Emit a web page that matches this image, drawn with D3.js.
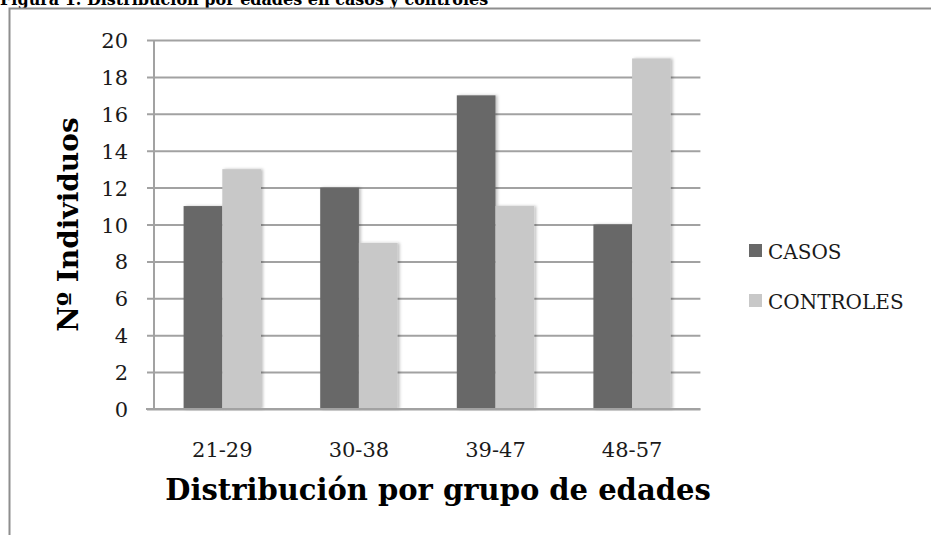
<!DOCTYPE html>
<html>
<head>
<meta charset="utf-8">
<script src="https://cdn.jsdelivr.net/npm/d3@7"></script>
<style>
  html, body { margin: 0; padding: 0; background: #fff; }
  svg { display: block; }
</style>
</head>
<body>
<svg id="chart" width="931" height="535"></svg>
<script>
// Age groups and counts for each series
const categories = ["21-29", "30-38", "39-47", "48-57"];
const casos = [11, 12, 17, 10];
const controles = [13, 9, 11, 19];
const seriesNames = ["CASOS", "CONTROLES"];
const yTickValues = [0, 2, 4, 6, 8, 10, 12, 14, 16, 18, 20];

const seriesColors = { "CASOS": "#686868", "CONTROLES": "#c8c8c8" };
const gridColor = "#a2a2a2";
const serif = "'DejaVu Serif', 'Liberation Serif', serif";

const svg = d3.select("#chart");

const defs = svg.append("defs");
const shadow = defs.append("filter").attr("id", "barShadow")
  .attr("x", "-20%").attr("y", "-5%").attr("width", "150%").attr("height", "110%");
shadow.append("feDropShadow").attr("dx", 2).attr("dy", 0)
  .attr("stdDeviation", 1.4).attr("flood-color", "#000").attr("flood-opacity", 0.25);

// Caption above the chart frame
svg.append("text")
  .attr("x", 0).attr("y", 5)
  .attr("font-family", serif).attr("font-weight", "bold").attr("font-size", 16)
  .attr("fill", "#000")
  .text("Figura 1. Distribución por edades en casos y controles");

// Chart frame
svg.append("rect")
  .attr("x", 9.5).attr("y", 8.5).attr("width", 1000).attr("height", 700)
  .attr("fill", "#fff").attr("stroke", "#8e8e8e").attr("stroke-width", 2);

const plot = { left: 154, right: 700.4, top: 40, bottom: 409 };

const x0 = d3.scaleBand().domain(categories).range([plot.left, plot.right]).padding(0);
const x1 = d3.scaleBand().domain(seriesNames).range([0, x0.bandwidth()])
  .paddingInner(0).paddingOuter(0.765);
const y = d3.scaleLinear().domain([0, 20]).range([plot.bottom, plot.top]);

// Horizontal gridlines (extending left as tick marks)
const yAxis = d3.axisLeft(y).tickValues(yTickValues)
  .tickSize(-(plot.right - plot.left)).tickSizeOuter(0).tickPadding(19).tickFormat(d3.format("d"));
const gy = svg.append("g").attr("transform", `translate(${plot.left},0)`).call(yAxis);
gy.select(".domain").remove();
gy.selectAll(".tick line").attr("stroke", gridColor).attr("stroke-width", 2).attr("x1", -7);
gy.selectAll(".tick text")
  .attr("font-family", serif).attr("font-size", 21).attr("fill", "#1a1a1a")
  .attr("x", -26).attr("dy", "0.36em");

// Bars
const groups = svg.append("g").selectAll("g")
  .data(categories.map((c, i) => ({ cat: c, values: [
    { name: "CASOS", value: casos[i] },
    { name: "CONTROLES", value: controles[i] }
  ] })))
  .join("g")
  .attr("transform", d => `translate(${x0(d.cat)},0)`);

groups.selectAll("rect")
  .data(d => d.values)
  .join("rect")
  .attr("x", d => x1(d.name))
  .attr("y", d => y(d.value))
  .attr("width", x1.bandwidth())
  .attr("height", d => y(0) - y(d.value))
  .attr("fill", d => seriesColors[d.name])
  .attr("filter", "url(#barShadow)");

// Value axis line
svg.append("line")
  .attr("x1", plot.left).attr("x2", plot.left)
  .attr("y1", plot.top).attr("y2", plot.bottom)
  .attr("stroke", gridColor).attr("stroke-width", 2);

// Category axis
const xAxis = d3.axisBottom(x0).tickSize(0).tickSizeOuter(0).tickPadding(0);
const gx = svg.append("g").attr("transform", `translate(0,${plot.bottom})`).call(xAxis);
gx.select(".domain").remove();
gx.selectAll(".tick text")
  .attr("font-family", serif).attr("font-size", 21).attr("fill", "#1a1a1a")
  .attr("y", 48).attr("dy", 0);
svg.append("line")
  .attr("x1", plot.left - 8).attr("x2", plot.right)
  .attr("y1", plot.bottom).attr("y2", plot.bottom)
  .attr("stroke", gridColor).attr("stroke-width", 2);

// Axis titles
svg.append("text")
  .attr("x", 438).attr("y", 500)
  .attr("text-anchor", "middle")
  .attr("font-family", serif).attr("font-weight", "bold").attr("font-size", 29)
  .attr("fill", "#000")
  .text("Distribución por grupo de edades");

svg.append("text")
  .attr("transform", `translate(78,${(plot.top + plot.bottom) / 2}) rotate(-90)`)
  .attr("text-anchor", "middle")
  .attr("font-family", serif).attr("font-weight", "bold").attr("font-size", 28)
  .attr("fill", "#000")
  .text("Nº Individuos");

// Legend
const legend = svg.append("g").selectAll("g")
  .data(seriesNames)
  .join("g")
  .attr("transform", (d, i) => `translate(749,${244 + i * 50})`);
legend.append("rect")
  .attr("width", 13).attr("height", 13)
  .attr("fill", d => seriesColors[d]);
legend.append("text")
  .attr("x", 19).attr("y", 15)
  .attr("font-family", serif).attr("font-size", 20).attr("fill", "#1a1a1a")
  .text(d => d);
</script>
</body>
</html>
